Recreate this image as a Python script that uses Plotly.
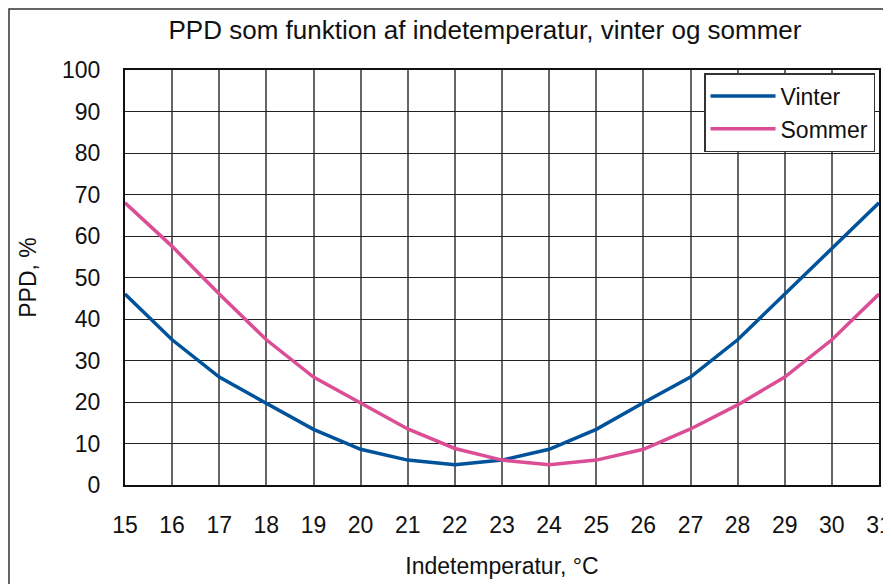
import plotly.graph_objects as go

temps = [15, 16, 17, 18, 19, 20, 21, 22, 23, 24, 25, 26, 27, 28, 29, 30, 31]
vinter = [46, 35, 26, 19.8, 13.4, 8.6, 6.0, 4.9, 6.0, 8.6, 13.4, 19.8, 26, 35, 46, 57, 68]
sommer = [68, 57.5, 46, 35, 26, 19.8, 13.5, 8.8, 6.0, 4.9, 6.0, 8.6, 13.5, 19.3, 26, 35, 46]
x_ticks = list(range(15, 32))
y_ticks = list(range(0, 101, 10))

title_text = "PPD som funktion af indetemperatur, vinter og sommer"
x_title = "Indetemperatur, °C"
y_title = "PPD, %"

FONT = "Liberation Sans, Arial, sans-serif"
FS = 23

# page body has an 8px margin; figure sized to fit the 891x584 window
W, H = 883, 576
L, T = 117, 62
PW, PH = 754, 415


def px(sx):
    return (sx - 125) / PW


def py(sy):
    return (485 - sy) / PH


fig = go.Figure()
fig.add_trace(go.Scatter(x=temps, y=vinter, mode="lines", name="Vinter",
                         legendgroup="v",
                         line=dict(color="#00529B", width=3.5)))
fig.add_trace(go.Scatter(x=temps, y=sommer, mode="lines", name="Sommer",
                         legendgroup="s",
                         line=dict(color="#DB4E96", width=3.5)))

fig.update_layout(
    width=W, height=H,
    margin=dict(l=L, r=W - L - PW, t=T, b=H - T - PH, autoexpand=False),
    paper_bgcolor="white", plot_bgcolor="white",
    font=dict(family=FONT, size=FS, color="#111"),
    title=dict(text=title_text, x=(485 - 8) / W, xanchor="center", xref="container",
               y=1 - (30 - 8) / H, yanchor="middle", yref="container",
               font=dict(family=FONT, size=26, color="#111")),
    legend=dict(x=px(875), xanchor="right", y=py(73), yanchor="top",
                bgcolor="white", bordercolor="#333", borderwidth=1.5,
                font=dict(family=FONT, size=FS, color="#111"),
                itemwidth=65,
                tracegroupgap=0, traceorder="grouped"),
    showlegend=True,
)
fig.update_xaxes(range=[15, 31], tickvals=x_ticks, ticktext=[str(t) for t in x_ticks],
                 showgrid=True, gridcolor="#666", gridwidth=1.5,
                 showline=True, linecolor="#111", linewidth=2, mirror=True,
                 ticks="", ticklabelstandoff=18, automargin=False,
                 ticklabeloverflow="allow",
                 title=dict(text=x_title, standoff=21, font=dict(family=FONT, size=FS)),
                 zeroline=False, fixedrange=True)
fig.update_yaxes(range=[0, 100], tickvals=y_ticks,
                 showgrid=True, gridcolor="#222", gridwidth=1,
                 showline=True, linecolor="#111", linewidth=2, mirror=True,
                 ticks="", ticklabelstandoff=18, automargin=False,
                 ticklabeloverflow="allow",
                 title=dict(text=y_title, standoff=19, font=dict(family=FONT, size=FS)),
                 zeroline=False, fixedrange=True)

# outer chart border
fig.add_shape(type="rect", xref="paper", yref="paper",
              x0=px(9), x1=px(900), y0=py(600), y1=py(9),
              line=dict(color="#333", width=1.5), fillcolor="rgba(0,0,0,0)", layer="below")

fig.write_html("out.html")
